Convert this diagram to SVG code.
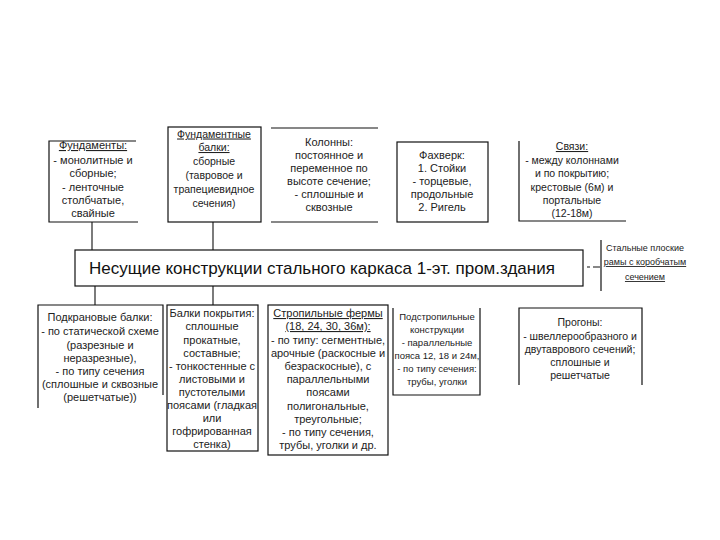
<svg xmlns="http://www.w3.org/2000/svg" width="720" height="540" viewBox="0 0 720 540">
<style>
.t{font-family:"Liberation Sans",Arial,sans-serif;font-size:11px;fill:#222;text-anchor:middle}
.m{font-family:"Liberation Sans",Arial,sans-serif;font-size:17px;fill:#111;text-anchor:middle}
.s{font-size:9px}
.n{font-size:9.5px}
.r{font-size:10.5px}
.u{text-decoration:underline}
.b{fill:none;stroke:#111;stroke-width:1.2}
.c{fill:none;stroke:#111;stroke-width:1.1}
</style>
<rect width="720" height="540" fill="#fff"/>
<g id="connectors">
<path class="c" d="M92,222V250M213,222V250M95,286V305M213,286V305"/>
<path class="c" d="M587,267H590M593,267H600"/>
</g>
<g id="main">
<rect class="b" x="75" y="250" width="508" height="36"/>
<text class="m" x="322" y="274">Несущие конструкции стального каркаса 1-эт. пром.здания</text>
</g>
<g id="fundamenty">
<path class="b" d="M136,141H49V222H138"/>
<text class="t"><tspan x="93" y="149" class="u">Фундаменты:</tspan><tspan x="93" y="163.5">- монолитные и</tspan><tspan x="93" y="177">сборные;</tspan><tspan x="93" y="190.5">- ленточные</tspan><tspan x="93" y="204">столбчатые,</tspan><tspan x="93" y="217">свайные</tspan></text>
</g>
<g id="fund-balki">
<rect class="b" x="168" y="127" width="93" height="95"/>
<text class="t r"><tspan x="214" y="137.5" class="u">Фундаментные</tspan><tspan x="214" y="151" class="u">балки:</tspan><tspan x="214" y="165">сборные</tspan><tspan x="214" y="179">(тавровое и</tspan><tspan x="214" y="193">трапециевидное</tspan><tspan x="214" y="206.5">сечения)</tspan></text>
</g>
<g id="kolonny">
<path class="b" d="M271,128H378M271,222H378"/>
<text class="t"><tspan x="329" y="145.5">Колонны:</tspan><tspan x="329" y="158.5">постоянное и</tspan><tspan x="329" y="171.5">переменное по</tspan><tspan x="329" y="184.5">высоте сечение;</tspan><tspan x="329" y="197.5">- сплошные и</tspan><tspan x="329" y="210.5">сквозные</tspan></text>
</g>
<g id="fakhverk">
<rect class="b" x="397" y="142" width="91" height="80"/>
<text class="t"><tspan x="442" y="159">Фахверк:</tspan><tspan x="442" y="172">1. Стойки</tspan><tspan x="442" y="185">- торцевые,</tspan><tspan x="442" y="198">продольные</tspan><tspan x="442" y="211">2. Ригель</tspan></text>
</g>
<g id="svyazi">
<path class="b" d="M519,141V221H626"/>
<text class="t r"><tspan x="572" y="150" class="u">Связи:</tspan><tspan x="572" y="164">- между колоннами</tspan><tspan x="572" y="177">и по покрытию;</tspan><tspan x="572" y="191">крестовые (6м) и</tspan><tspan x="572" y="204">портальные</tspan><tspan x="572" y="217">(12-18м)</tspan></text>
</g>
<g id="ramy">
<path class="b" d="M601,240V291"/>
<text class="t s"><tspan x="645" y="251">Стальные плоские</tspan><tspan x="645" y="265" class="u">рамы с коробчатым</tspan><tspan x="645" y="280" class="u">сечением</tspan></text>
</g>
<g id="podkranovye">
<path class="b" d="M163,395V305H38V408"/>
<text class="t"><tspan x="100" y="321">Подкрановые балки:</tspan><tspan x="100" y="335">- по статической схеме</tspan><tspan x="100" y="349">(разрезные и</tspan><tspan x="100" y="362">неразрезные),</tspan><tspan x="100" y="375">- по типу сечения</tspan><tspan x="100" y="388">(сплошные и сквозные</tspan><tspan x="100" y="401">(решетчатые))</tspan></text>
</g>
<g id="balki-pokrytiya">
<rect class="b" x="167" y="305" width="91" height="146"/>
<text class="t"><tspan x="212" y="317">Балки покрытия:</tspan><tspan x="212" y="330">сплошные</tspan><tspan x="212" y="344">прокатные,</tspan><tspan x="212" y="357">составные;</tspan><tspan x="212" y="370">- тонкостенные с</tspan><tspan x="212" y="383">листовыми и</tspan><tspan x="212" y="396">пустотелыми</tspan><tspan x="212" y="409">поясами (гладкая</tspan><tspan x="212" y="422">или</tspan><tspan x="212" y="435">гофрированная</tspan><tspan x="212" y="448">стенка)</tspan></text>
</g>
<g id="fermy">
<rect class="b" x="268" y="305" width="120" height="150"/>
<text class="t"><tspan x="328" y="317" class="u">Стропильные фермы</tspan><tspan x="328" y="330" class="u">(18, 24, 30, 36м):</tspan><tspan x="328" y="344">- по типу: сегментные,</tspan><tspan x="328" y="357">арочные (раскосные и</tspan><tspan x="328" y="370">безраскосные), с</tspan><tspan x="328" y="383">параллельными</tspan><tspan x="328" y="396">поясами</tspan><tspan x="328" y="410">полигональные,</tspan><tspan x="328" y="423">треугольные;</tspan><tspan x="328" y="436">- по типу сечения,</tspan><tspan x="328" y="449">трубы, уголки и др.</tspan></text>
</g>
<g id="podstropilnye">
<path class="b" d="M393,308V395H480V308"/>
<text class="t n"><tspan x="437" y="320">Подстропильные</tspan><tspan x="437" y="333">конструкции</tspan><tspan x="437" y="346">- параллельные</tspan><tspan x="437" y="359">пояса 12, 18 и 24м,</tspan><tspan x="437" y="372">- по типу сечения:</tspan><tspan x="437" y="385">трубы, уголки</tspan></text>
</g>
<g id="progony">
<path class="b" d="M519,385V308H642V385"/>
<text class="t r"><tspan x="580" y="326">Прогоны:</tspan><tspan x="580" y="340">- швеллерообразного и</tspan><tspan x="580" y="353">двутаврового сечений;</tspan><tspan x="580" y="366">сплошные и</tspan><tspan x="580" y="379">решетчатые</tspan></text>
</g>
</svg>
